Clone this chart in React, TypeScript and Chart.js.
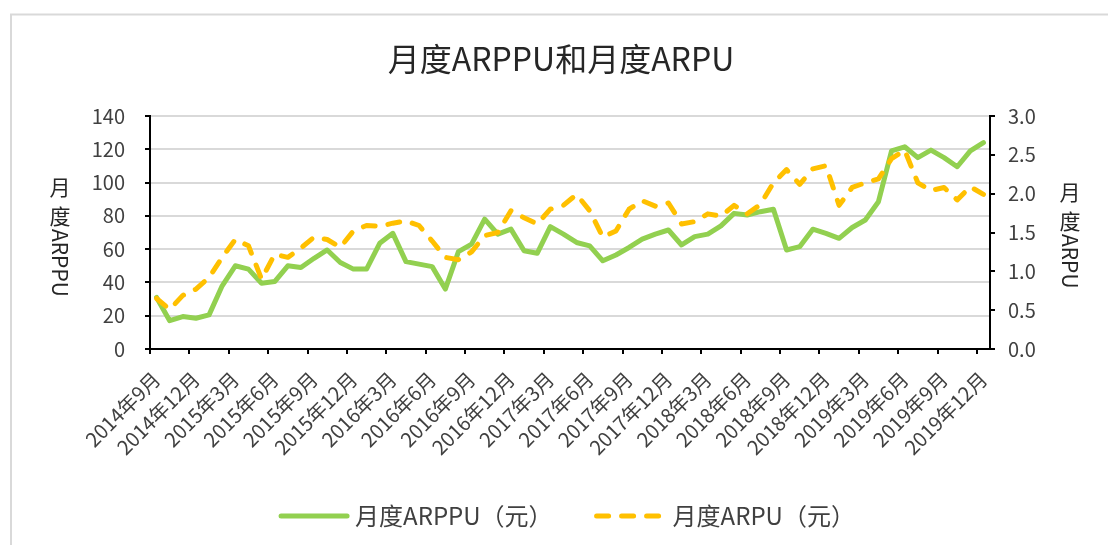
import React, { useEffect, useRef } from 'react';
import { Chart, registerables } from 'chart.js';

Chart.register(...registerables);

const months = [
  '2014年9月', '2014年10月', '2014年11月', '2014年12月', '2015年1月', '2015年2月', '2015年3月', '2015年4月',
  '2015年5月', '2015年6月', '2015年7月', '2015年8月', '2015年9月', '2015年10月', '2015年11月', '2015年12月',
  '2016年1月', '2016年2月', '2016年3月', '2016年4月', '2016年5月', '2016年6月', '2016年7月', '2016年8月',
  '2016年9月', '2016年10月', '2016年11月', '2016年12月', '2017年1月', '2017年2月', '2017年3月', '2017年4月',
  '2017年5月', '2017年6月', '2017年7月', '2017年8月', '2017年9月', '2017年10月', '2017年11月', '2017年12月',
  '2018年1月', '2018年2月', '2018年3月', '2018年4月', '2018年5月', '2018年6月', '2018年7月', '2018年8月',
  '2018年9月', '2018年10月', '2018年11月', '2018年12月', '2019年1月', '2019年2月', '2019年3月', '2019年4月',
  '2019年5月', '2019年6月', '2019年7月', '2019年8月', '2019年9月', '2019年10月', '2019年11月', '2019年12月',
];

const arppu = [
  31, 17, 19.5, 18.5, 20.5, 38, 50, 48, 39.5, 40.5, 50, 49, 54.5, 59.5, 52, 48,
  48, 63.5, 69.5, 52.5, 51, 49.5, 36, 58.5, 63, 78, 69, 72, 59, 57.5, 73.5, 69,
  64, 62, 53, 56.5, 61, 66, 69, 71.5, 62.5, 67.5, 69, 74, 81.5, 80.5, 82.5, 84,
  59.5, 61.5, 72, 69.5, 66.5, 73, 77.5, 88.5, 119, 121.5, 115, 119.5, 115, 109.5, 119, 124,
];

const arpu = [
  0.65, 0.51, 0.69, 0.77, 0.92, 1.18, 1.41, 1.33, 0.9, 1.22, 1.18, 1.3, 1.44, 1.41, 1.31, 1.52,
  1.59, 1.58, 1.62, 1.65, 1.59, 1.39, 1.18, 1.15, 1.25, 1.46, 1.5, 1.78, 1.69, 1.61, 1.8, 1.85,
  1.99, 1.78, 1.44, 1.52, 1.8, 1.91, 1.84, 1.88, 1.61, 1.64, 1.74, 1.71, 1.85, 1.74, 1.86, 2.14,
  2.31, 2.12, 2.32, 2.36, 1.85, 2.08, 2.14, 2.19, 2.45, 2.56, 2.14, 2.04, 2.08, 1.92, 2.09, 1.99,
];

const seriesNames = ['月度ARPPU（元）', '月度ARPU（元）'];
const titleText = '月度ARPPU和月度ARPU';
const leftAxisTitle = ['月', '度', 'ARPPU'];
const rightAxisTitle = ['月', '度', 'ARPU'];

const FONT = '"Noto Sans CJK SC", "Noto Sans", sans-serif';
const GREEN = '#92D050';
const ORANGE = '#FFC000';
const TEXT = '#404040';

function drawVerticalTitle(ctx: CanvasRenderingContext2D, cx: number, top: number, parts: string[]) {
  ctx.save();
  ctx.font = `21px ${FONT}`;
  ctx.fillStyle = '#262626';
  ctx.textAlign = 'center';
  ctx.textBaseline = 'middle';
  ctx.fillText(parts[0], cx, top);
  ctx.fillText(parts[1], cx, top + 29);
  ctx.translate(cx, top + 42);
  ctx.rotate(Math.PI / 2);
  ctx.textAlign = 'left';
  ctx.textBaseline = 'middle';
  ctx.fillText(parts[2], 0, 0);
  ctx.restore();
}

const decorations = {
  id: 'decorations',
  beforeDraw(chart: any) {
    const ctx = chart.ctx as CanvasRenderingContext2D;
    ctx.save();
    ctx.fillStyle = '#ffffff';
    ctx.fillRect(0, 0, chart.width, chart.height);
    ctx.strokeStyle = '#d9d9d9';
    ctx.lineWidth = 2;
    ctx.beginPath();
    ctx.moveTo(11, chart.height + 5);
    ctx.lineTo(11, 14.5);
    ctx.lineTo(chart.width + 5, 14.5);
    ctx.stroke();
    ctx.restore();
  },
  afterDraw(chart: any) {
    const ctx = chart.ctx as CanvasRenderingContext2D;
    // title
    ctx.save();
    ctx.font = `32px ${FONT}`;
    ctx.fillStyle = '#262626';
    ctx.textAlign = 'center';
    ctx.textBaseline = 'middle';
    ctx.fillText(titleText, 561, 59);
    ctx.restore();

    drawVerticalTitle(ctx, 60, 187, leftAxisTitle);
    drawVerticalTitle(ctx, 1070, 192, rightAxisTitle);

    // legend
    ctx.save();
    ctx.font = `24px ${FONT}`;
    const w1 = ctx.measureText(seriesNames[0]).width;
    const w2 = ctx.measureText(seriesNames[1]).width;
    const sample = 66;
    const total = sample + 8 + w1 + 44 + sample + 10 + w2;
    let x = 568 - total / 2;
    const y = 516;
    ctx.lineWidth = 5;
    ctx.lineCap = 'round';
    ctx.strokeStyle = GREEN;
    ctx.beginPath();
    ctx.moveTo(x, y);
    ctx.lineTo(x + sample, y);
    ctx.stroke();
    x += sample + 8;
    ctx.fillStyle = TEXT;
    ctx.textAlign = 'left';
    ctx.textBaseline = 'middle';
    ctx.fillText(seriesNames[0], x, y);
    x += w1 + 44;
    ctx.strokeStyle = ORANGE;
    ctx.setLineDash([12, 13]);
    ctx.beginPath();
    ctx.moveTo(x, y);
    ctx.lineTo(x + sample, y);
    ctx.stroke();
    ctx.setLineDash([]);
    x += sample + 10;
    ctx.fillText(seriesNames[1], x, y);
    ctx.restore();
  },
};

export default function App() {
  const canvasRef = useRef<HTMLCanvasElement | null>(null);

  useEffect(() => {
    document.body.style.margin = '0';
    const canvas = canvasRef.current;
    if (!canvas) return;
    Chart.defaults.font.family = FONT;
    const chart = new Chart(canvas, {
      type: 'line',
      data: {
        labels: months,
        datasets: [
          {
            label: seriesNames[0],
            data: arppu,
            yAxisID: 'y',
            borderColor: GREEN,
            backgroundColor: GREEN,
            borderWidth: 5,
            pointRadius: 0,
            tension: 0,
            borderJoinStyle: 'round',
            borderCapStyle: 'round',
            order: 1,
          },
          {
            label: seriesNames[1],
            data: arpu,
            yAxisID: 'y1',
            borderColor: ORANGE,
            backgroundColor: ORANGE,
            borderWidth: 5,
            borderDash: [12, 13],
            pointRadius: 0,
            tension: 0,
            borderJoinStyle: 'round',
            borderCapStyle: 'round',
            order: 0,
          },
        ],
      },
      options: {
        responsive: false,
        animation: false,
        events: [],
        layout: { padding: { top: 116, left: 0, right: 0, bottom: 0 } },
        plugins: {
          legend: { display: false },
          title: { display: false },
          tooltip: { enabled: false },
        },
        scales: {
          x: {
            offset: true,
            afterFit(scale: any) {
              scale.height = 196;
            },
            grid: {
              display: true,
              offset: true,
              drawOnChartArea: false,
              drawTicks: true,
              tickLength: 5,
              lineWidth: 2,
              color: (c: any) => (c.index % 3 === 0 ? '#000000' : 'rgba(0,0,0,0)'),
            },
            border: { display: true, color: '#000000', width: 2 },
            ticks: {
              autoSkip: false,
              maxRotation: 45,
              minRotation: 45,
              padding: 13,
              color: TEXT,
              font: { size: 20, family: FONT },
              callback: (_v: any, i: number) => (i % 3 === 0 ? months[i] : ''),
            },
          },
          y: {
            position: 'left',
            min: 0,
            max: 140,
            afterFit(scale: any) {
              scale.width = 150;
            },
            grid: {
              color: '#d9d9d9',
              lineWidth: 2,
              tickColor: '#000000',
              tickLength: 5,
              drawTicks: true,
            },
            border: { display: true, color: '#000000', width: 2 },
            ticks: {
              stepSize: 20,
              padding: 20,
              color: TEXT,
              font: { size: 20, family: FONT },
            },
          },
          y1: {
            position: 'right',
            min: 0,
            max: 3,
            afterFit(scale: any) {
              scale.width = 118;
            },
            grid: {
              drawOnChartArea: false,
              color: '#000000',
              lineWidth: 2,
              tickLength: 5,
            },
            border: { display: true, color: '#000000', width: 2 },
            ticks: {
              stepSize: 0.5,
              padding: 13,
              color: TEXT,
              font: { size: 20, family: FONT },
              callback: (v: any) => Number(v).toFixed(1),
            },
          },
        },
      },
      plugins: [decorations],
    });
    return () => chart.destroy();
  }, []);

  return (
    <div style={{ width: 1108, height: 545 }}>
      <canvas ref={canvasRef} width={1108} height={545} />
    </div>
  );
}
